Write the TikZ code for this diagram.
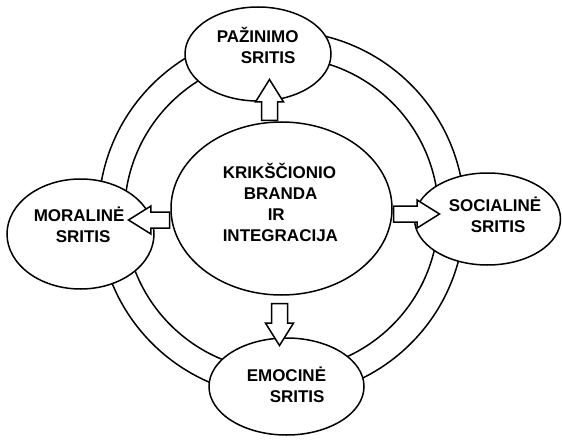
\documentclass[tikz,border=0pt]{standalone}
\usepackage{fontspec}
\setmainfont{Liberation Sans}[BoldFont={Liberation Sans Bold}]
\usetikzlibrary{shapes.geometric,shapes.arrows}

\tikzset{
  sritis/.style={draw, ellipse, fill=white, inner sep=0pt},
  tekstas/.style={anchor=base west, inner sep=0pt, align=left,
    font=\bfseries\fontsize{17}{21}\selectfont},
  rodykle/.style={draw, fill=white, single arrow, inner xsep=0pt, inner ysep=7.25pt,
    single arrow tip angle=64, single arrow head extend=6pt}
}

\begin{document}
\begin{tikzpicture}[x=1pt,y=-1pt,line width=1.5pt]
  \useasboundingbox (0,0) rectangle (562,441);
  % ziedas
  \draw (281.5,214) circle[radius=183pt];
  \draw (281.5,214) circle[radius=157pt];
  % sritys
  \node[sritis, minimum width=221pt, minimum height=173pt] (branda) at (281.5,208.5) {};
  \node[sritis, minimum width=146pt, minimum height=94pt] (pazinimo) at (258,54) {};
  \node[sritis, minimum width=147pt, minimum height=110pt] (moraline) at (80.5,234) {};
  \node[sritis, minimum width=146pt, minimum height=92pt] (socialine) at (487.5,219) {};
  \node[sritis, minimum width=155pt, minimum height=97pt] (emocine) at (286.5,386.5) {};
  % tekstai (base = paskutine eilute)
  \node[tekstas] (t-branda) at (222,241.5) {KRIKŠČIONIO\\\hspace*{21pt}BRANDA\\\hspace*{45pt}IR\\INTEGRACIJA};
  \node[tekstas] (t-pazinimo) at (216,64) {PAŽINIMO\\\hspace*{24pt}SRITIS};
  \node[tekstas] (t-moraline) at (33,242) {MORALINĖ\\\hspace*{22pt}SRITIS};
  \node[tekstas] (t-socialine) at (448,232) {SOCIALINĖ\\\hspace*{22pt}SRITIS};
  \node[tekstas] (t-emocine) at (246,402) {EMOCINĖ\\\hspace*{23pt}SRITIS};
  % rodykles
  \node[rodykle, rotate=90, anchor=tail, minimum height=41pt] (r-pazinimo) at ([xshift=-12pt]branda.north) {};
  \node[rodykle, rotate=180, anchor=tail, minimum height=41pt] (r-moraline) at ([yshift=-11.5pt]branda.west) {};
  \node[rodykle, anchor=tail, minimum height=46pt] (r-socialine) at ([yshift=-5.5pt]branda.east) {};
  \node[rodykle, rotate=-90, anchor=tail, minimum height=42pt] (r-emocine) at ([xshift=-2pt,yshift=-7pt]branda.south) {};
\end{tikzpicture}
\end{document}
